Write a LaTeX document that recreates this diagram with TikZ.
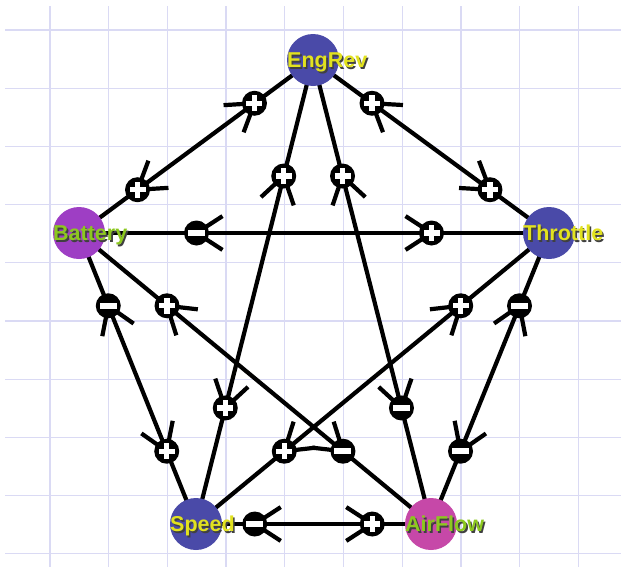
\documentclass[tikz,border=0pt]{standalone}
\usepackage{fontspec}
\setmainfont{Liberation Sans}
\usetikzlibrary{decorations.markings}
\pgfdeclarelayer{background}
\pgfsetlayers{background,main}

\definecolor{vblue}{RGB}{74,74,168}
\definecolor{vpurple}{RGB}{158,62,196}
\definecolor{vpink}{RGB}{198,72,168}
\definecolor{tyellow}{RGB}{226,226,30}
\definecolor{tgreen}{RGB}{140,200,30}
\definecolor{gridblue}{RGB}{218,218,244}

\newcommand{\signplus}{\makebox[0pt]{\color{white}\rule[-2.7pt]{16pt}{5.4pt}}\makebox[0pt]{\color{white}\rule[-8pt]{5.4pt}{16pt}}}
\newcommand{\signminus}{\makebox[0pt]{\color{white}\rule[-3pt]{17pt}{6pt}}}
\newcommand{\vlabel}[2]{\makebox[0pt][l]{\hspace{1.6pt}\raisebox{-1.6pt}{\color{black!75}#2}}{\color{#1}#2}}

\begin{document}
\begin{tikzpicture}[x=1pt,y=-1pt,
  vertex/.style={circle, inner sep=0pt, minimum size=52pt, fill=#1},
  vname/.style={anchor=base west, inner sep=0pt, font=\bfseries\fontsize{21.5}{24}\selectfont},
  link/.style={line width=4.2pt},
  tine/.style={line width=4.2pt},
  signdot/.style={circle, fill=black, inner sep=0pt, minimum size=25pt},
  plusedge/.style={postaction={decorate}, decoration={markings, mark=at position 0.75 with {\draw[tine] (147:31) -- (0,0) -- (213:31); \node[signdot] {\signplus};}}},
  minusedge/.style={postaction={decorate}, decoration={markings, mark=at position 0.75 with {\draw[tine] (147:31) -- (0,0) -- (213:31); \node[signdot] {\signminus};}}}]
\useasboundingbox (0,0) rectangle (626,573);

\node[vertex=vblue] (EngRev) at (313,60) {};
\node[vertex=vpurple] (Battery) at (79,233) {};
\node[vertex=vblue] (Throttle) at (549,233) {};
\node[vertex=vblue] (Speed) at (196,524) {};
\node[vertex=vpink] (AirFlow) at (431,524) {};

\node[vname] (EngRev-l) at ([shift={(-26,7.5)}]EngRev.center) {\vlabel{tyellow}{EngRev}};
\node[vname] (Battery-l) at ([shift={(-26,7.5)}]Battery.center) {\vlabel{tgreen}{Battery}};
\node[vname] (Throttle-l) at ([shift={(-26,7.5)}]Throttle.center) {\vlabel{tyellow}{Throttle}};
\node[vname] (Speed-l) at ([shift={(-26,7.5)}]Speed.center) {\vlabel{tyellow}{Speed}};
\node[vname] (AirFlow-l) at ([shift={(-26,7.5)}]AirFlow.center) {\vlabel{tgreen}{AirFlow}};

\begin{pgfonlayer}{background}
\fill[white] (0,0) rectangle (626,573);
\foreach \i in {0,...,9}
{
  \draw[gridblue, line width=1.3pt] ({50+58.7*\i},6) -- ({50+58.7*\i},567);
  \draw[gridblue, line width=1.3pt] (5,{30+58.2*\i}) -- (621,{30+58.2*\i});
}

% the ten links
\draw[link] (Battery.center) -- (EngRev.center);
\draw[link] (Throttle.center) -- (EngRev.center);
\draw[link] (Speed.center) -- (EngRev.center);
\draw[link] (AirFlow.center) -- (EngRev.center);
\draw[link] (Battery.center) -- (Throttle.center);
\draw[link] (Battery.center) -- (Speed.center);
\draw[link] (Battery.center) -- (AirFlow.center);
\draw[link] (Throttle.center) -- (Speed.center);
\draw[link] (Throttle.center) -- (AirFlow.center);
\draw[link] (Speed.center) -- (AirFlow.center);

% signs, one for each direction
\path[plusedge] (Battery.center) -- (EngRev.center);
\path[plusedge] (EngRev.center) -- (Battery.center);
\path[plusedge] (Throttle.center) -- (EngRev.center);
\path[plusedge] (EngRev.center) -- (Throttle.center);
\path[plusedge] (Speed.center) -- (EngRev.center);
\path[plusedge] (EngRev.center) -- (Speed.center);
\path[plusedge] (AirFlow.center) -- (EngRev.center);
\path[minusedge] (EngRev.center) -- (AirFlow.center);
\path[minusedge] (Throttle.center) -- (Battery.center);
\path[plusedge] (Battery.center) -- (Throttle.center);
\path[minusedge] (Speed.center) -- (Battery.center);
\path[plusedge] (Battery.center) -- (Speed.center);
\path[plusedge] (AirFlow.center) -- (Battery.center);
\path[minusedge] (Battery.center) -- (AirFlow.center);
\path[plusedge] (Speed.center) -- (Throttle.center);
\path[plusedge] (Throttle.center) -- (Speed.center);
\path[minusedge] (AirFlow.center) -- (Throttle.center);
\path[minusedge] (Throttle.center) -- (AirFlow.center);
\path[minusedge] (AirFlow.center) -- (Speed.center);
\path[plusedge] (Speed.center) -- (AirFlow.center);
\end{pgfonlayer}
\end{tikzpicture}
\end{document}
